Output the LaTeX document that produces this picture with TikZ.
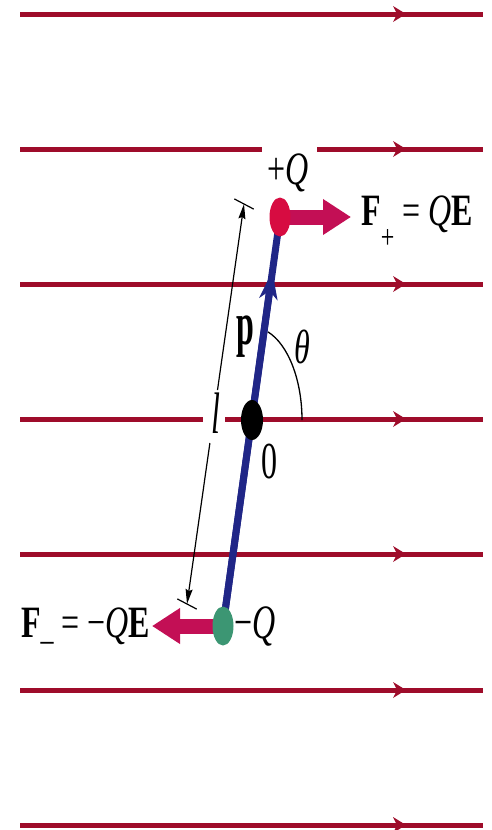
\documentclass[tikz,border=0pt]{standalone}
\usepackage{fontspec}
\setmainfont{Liberation Serif}
\usetikzlibrary{arrows.meta,shapes.geometric}
\definecolor{fieldc}{RGB}{158,12,42}
\definecolor{dipolec}{RGB}{32,38,135}
\definecolor{posc}{RGB}{215,12,65}
\definecolor{negc}{RGB}{60,150,115}
\definecolor{forcec}{RGB}{195,15,85}
\newcommand{\vst}[2]{\scalebox{1}[#1]{#2}}
\begin{document}
\begin{tikzpicture}[x=1pt,y=-1pt,
  fieldline/.style={draw=fieldc, line width=5pt},
  fieldhead/.style={fill=fieldc},
  dimline/.style={draw=black, line width=1.2pt},
  dimtip/.style={-{Stealth[length=15pt,width=7pt,inset=2pt]}},
  dipoleline/.style={draw=dipolec, line width=7pt},
  forcearrow/.style={draw=forcec, line width=15pt, -{Triangle[length=28pt,width=34pt]}},
  dot/.style={ellipse, inner sep=0pt, minimum width=21pt, minimum height=39pt, draw=none},
  arcline/.style={draw=black, line width=1.3pt},
  lbl/.style={inner sep=0pt, font=\fontsize{32}{36}\selectfont}]
\useasboundingbox (0,0) rectangle (491,830);

% field lines
\foreach \yy in {14,284,554,690,825} {
  \draw[fieldline] (20,\yy) -- (483,\yy);
}
\draw[fieldline] (20,149) -- (262,149);
\draw[fieldline] (317,149) -- (483,149);
\draw[fieldline] (20,419) -- (203,419);
\draw[fieldline] (225,419) -- (483,419);
\foreach \yy in {14,149,284,419,554,690,825} {
  \fill[fieldhead] (393,\yy-8) -- (406,\yy) -- (393,\yy+8) -- (397,\yy) -- cycle;
}

% dimension line l
\coordinate (ltop) at (244,204);
\coordinate (lbot) at (187,604);
\coordinate (lgapt) at (217.5,390);
\coordinate (lgapb) at (209.9,443);
\draw[dimline,dimtip] (lgapt) -- (ltop);
\draw[dimline,dimtip] (lgapb) -- (lbot);
\draw[dimline] (ltop) ++(-9.7,-5.1) -- ++(19.4,10.2);
\draw[dimline] (lbot) ++(-9.7,-5.1) -- ++(19.4,10.2);

% dipole
\coordinate (neg) at (223,626);
\coordinate (pos) at (280,217);
\coordinate (ptip) at (272.3,271);
\coordinate (orig) at (252,420);
\draw[dipoleline] (neg) -- (pos);
\draw[dipoleline,-{Stealth[length=28pt,width=18pt,inset=8pt]}] (neg) -- (ptip);

% forces
\coordinate (fptip) at (351,217);
\coordinate (fntip) at (152,626);
\draw[forcearrow] (pos) -- (fptip);
\draw[forcearrow] (neg) -- (fntip);

% charges
\node[dot, fill=posc] (posdot) at (pos) {};
\node[dot, fill=negc] (negdot) at (neg) {};
\node[dot, fill=black, minimum width=22pt, minimum height=40pt] (odot) at (orig) {};

% angle
\draw[arcline] (302,420) arc[start angle=0, end angle=-71.3, x radius=50, y radius=93];

% labels
\node[lbl, anchor=base west] (fplus) at (361,225) {\vst{1.4}{\textbf{F}\raisebox{-17pt}{\fontsize{24}{24}\selectfont +} = \textit{Q}\textbf{E}}};
\node[lbl, anchor=base west] (fminus) at (21,637) {\vst{1.4}{\textbf{F}\raisebox{-2pt}{\fontsize{26}{26}\selectfont\_} = −\textit{Q}\textbf{E}}};
\node[lbl, anchor=base] (qplus) at (288,184) {\vst{1.45}{+\textit{Q}}};
\node[lbl, anchor=base west] (qminus) at (234,638) {\vst{1.5}{−\textit{Q}}};
\node[lbl, anchor=base] (plbl) at (245,344) {\vst{1.9}{\textbf{p}}};
\node[lbl, anchor=base] (thlbl) at (302,363) {\vst{1.5}{\textit{θ}}};
\node[lbl, anchor=base] (olbl) at (269,478) {\vst{1.62}{0}};
\node[lbl, anchor=base] (llbl) at (216,433) {\vst{1.83}{\textit{l}}};
\end{tikzpicture}
\end{document}
